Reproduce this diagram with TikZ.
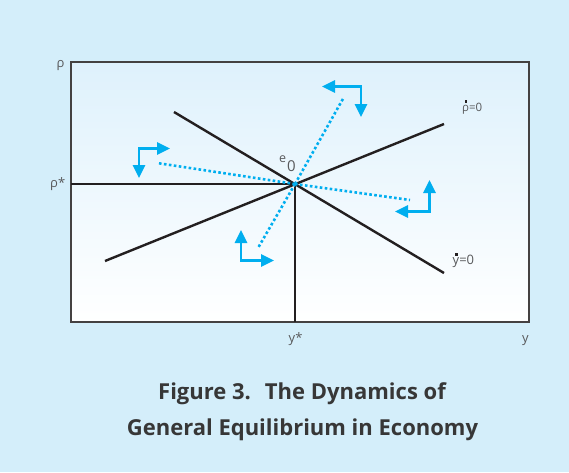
\documentclass[tikz,border=0pt]{standalone}
\usepackage{fontspec}
\setmainfont{Open Sans}
\usetikzlibrary{arrows.meta}
\definecolor{bgblue}{RGB}{212,238,250}
\definecolor{boxtop}{RGB}{222,241,252}
\definecolor{cyanarrow}{RGB}{0,174,239}
\definecolor{curve}{RGB}{35,31,32}
\definecolor{labelgray}{RGB}{88,89,91}
\definecolor{titlegray}{RGB}{55,55,55}
\tikzset{
  curveline/.style={draw=curve,line width=2.4pt},
  framebox/.style={draw=curve!85,line width=1.4pt},
  dotline/.style={draw=cyanarrow,line width=2.6pt,dash pattern=on 2.6pt off 2.4pt},
  dirarrow/.style={draw=cyanarrow,line width=2.8pt,line join=miter,
    arrows={Triangle[length=13pt,width=12pt,fill=cyanarrow]-Triangle[length=13pt,width=12pt,fill=cyanarrow]}},
  axlabel/.style={inner sep=0pt,anchor=base west,text=labelgray,font=\fontsize{13}{13}\selectfont},
  titletext/.style={inner sep=0pt,anchor=base,text=titlegray,font=\bfseries\fontsize{22}{22}\selectfont}
}
\newcommand\mydot[1]{\makebox[0pt][l]{\kern#1\raisebox{8.4pt}{\textcolor{curve}{\rule{2.3pt}{2.3pt}}}}}
\begin{document}
\begin{tikzpicture}[x=1pt,y=-1pt]
\useasboundingbox (0,0) rectangle (569,472);
\fill[bgblue] (0,0) rectangle (569,472);
\shade[top color=boxtop,bottom color=white] (71,62) rectangle (529,322);
\draw[framebox] (71,62) rectangle (529,322);

\coordinate (e0) at (295,184);
\coordinate (leftstar) at (71,184);
\coordinate (bottomstar) at (295,322);
\coordinate (rhoA) at (105,261);
\coordinate (rhoB) at (444,124);
\coordinate (yA) at (174,112);
\coordinate (yB) at (444,273);

\draw[curveline] (leftstar) -- (e0) -- (bottomstar);
\draw[curveline] (rhoA) -- (rhoB);
\draw[curveline] (yA) -- (yB);

% dotted paths
\coordinate (d1) at (344,97);
\coordinate (d2) at (258,248);
\coordinate (d3) at (157,163);
\coordinate (d4) at (410,200);
\draw[dotline] (e0) -- (d1);
\draw[dotline] (e0) -- (d2);
\draw[dotline] (e0) -- (d3);
\draw[dotline] (e0) -- (d4);

% direction arrows
\coordinate (a1s) at (322,86.5);
\coordinate (a1c) at (361,86.5);
\coordinate (a1e) at (361,117);
\draw[dirarrow] (a1s) -- (a1c) -- (a1e);

\coordinate (a2s) at (170,148.5);
\coordinate (a2c) at (139,148.5);
\coordinate (a2e) at (139,178);
\draw[dirarrow] (a2s) -- (a2c) -- (a2e);

\coordinate (a3s) at (429.5,180);
\coordinate (a3c) at (429.5,211.5);
\coordinate (a3e) at (395,211.5);
\draw[dirarrow] (a3s) -- (a3c) -- (a3e);

\coordinate (a4s) at (241,230);
\coordinate (a4c) at (241,260.5);
\coordinate (a4e) at (274,260.5);
\draw[dirarrow] (a4s) -- (a4c) -- (a4e);

% labels
\node[axlabel] (rholab) at (56.5,67.5) {ρ};
\node[axlabel] (rhostar) at (50,187.5) {ρ*};
\node[axlabel] (ystar) at (288.5,342) {y*};
\node[axlabel] (ylab) at (522,342) {y};
\node[axlabel,font=\fontsize{11.5}{11.5}\selectfont] (rhodot) at (462,111) {\mydot{2.4pt}ρ=0};
\node[axlabel,font=\fontsize{13}{13}\selectfont] (ydot) at (452.5,264) {\mydot{2.6pt}y=0};
\node[axlabel,font=\fontsize{12.5}{12.5}\selectfont] (elab) at (279,162) {e};
\node[axlabel,font=\fontsize{15}{15}\selectfont] (esub) at (287,171) {0};

% title
\node[titletext] (title1) at (302,399) {Figure 3.\hspace{14pt}The Dynamics of};
\node[titletext] (title2) at (302.5,435) {General Equilibrium in Economy};
\end{tikzpicture}
\end{document}
